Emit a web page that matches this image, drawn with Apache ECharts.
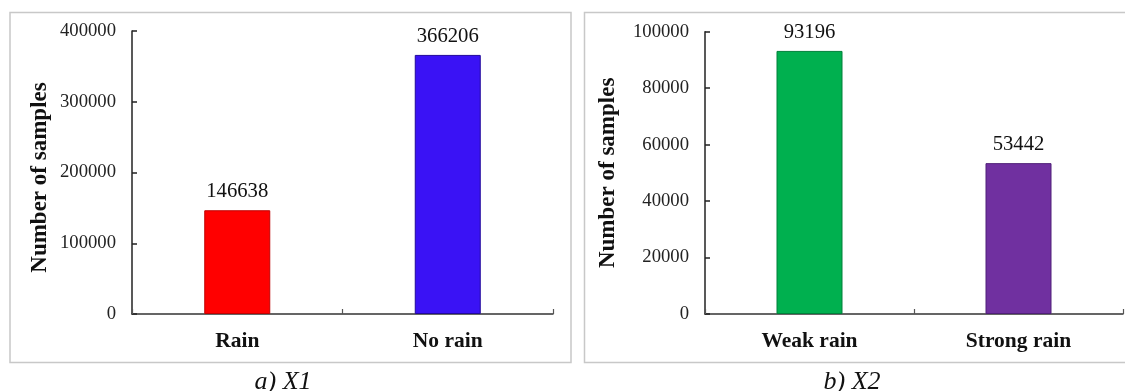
<!DOCTYPE html>
<html>
<head>
<meta charset="utf-8">
<style>
  html, body { margin: 0; padding: 0; background: #ffffff; }
  #chart { width: 1125px; height: 391px; }
</style>
<script src="https://cdn.jsdelivr.net/npm/echarts@6/dist/echarts.min.js"></script>
</head>
<body>
<div id="chart"></div>
<script>
// Sample counts per class for the two labelling schemes
const x1Categories = ['Rain', 'No rain'];
const x1Values = [146638, 366206];
const x1Colors = ['#ff0000', '#3a12f5'];
const x1Borders = ['#c00000', '#20089a'];

const x2Categories = ['Weak rain', 'Strong rain'];
const x2Values = [93196, 53442];
const x2Colors = ['#00b04f', '#7030a0'];
const x2Borders = ['#00803a', '#4f1f78'];

const x1Ticks = { min: 0, max: 400000, interval: 100000 };
const x2Ticks = { min: 0, max: 100000, interval: 20000 };

const yAxisTitle = 'Number of samples';
const captions = ['a) X1', 'b) X2'];

const serif = '"Liberation Serif", "Times New Roman", serif';

function valueAxis(gridIndex, ticks) {
  return {
    type: 'value',
    gridIndex: gridIndex,
    min: ticks.min,
    max: ticks.max,
    interval: ticks.interval,
    name: yAxisTitle,
    nameLocation: 'middle',
    nameRotate: 90,
    nameGap: gridIndex === 0 ? 80.5 : 85.5,
    nameTextStyle: {
      fontFamily: serif, fontWeight: 'bold', fontSize: 23, color: '#111',
      padding: gridIndex === 0 ? [0, 10, 0, 0] : [0, 0, 0, 0]
    },
    axisLine: { show: true, lineStyle: { color: '#222', width: 1.5 } },
    axisTick: { show: true, inside: true, length: 5, lineStyle: { color: '#222', width: 1.5 } },
    axisLabel: {
      fontFamily: serif, fontSize: 18.7, color: '#222', margin: 16,
      formatter: (v) => String(v)
    },
    splitLine: { show: false }
  };
}

function categoryAxis(gridIndex, cats) {
  return {
    type: 'category',
    gridIndex: gridIndex,
    data: cats,
    axisLine: { show: true, lineStyle: { color: '#333', width: 1.5 } },
    axisTick: { show: true, inside: true, length: 5, lineStyle: { color: '#555', width: 1.2 } },
    axisLabel: { fontFamily: serif, fontWeight: 'bold', fontSize: 21.5, color: '#111', margin: 16 }
  };
}

function barSeries(idx, values, colors, borders) {
  return {
    type: 'bar',
    xAxisIndex: idx,
    yAxisIndex: idx,
    barWidth: 66,
    data: values.map((v, i) => ({
      value: v,
      itemStyle: { color: colors[i], borderColor: borders[i], borderWidth: 1 }
    })),
    label: {
      show: true,
      position: 'top',
      distance: 8,
      fontFamily: serif,
      fontSize: 20.7,
      color: '#111'
    }
  };
}

const chart = echarts.init(document.getElementById('chart'), null, { renderer: 'canvas' });

chart.setOption({
  backgroundColor: '#ffffff',
  animation: false,
  grid: [
    { left: 132, top: 31, width: 421, height: 283 },
    { left: 705, top: 31.7, width: 418, height: 282.3 }
  ],
  xAxis: [categoryAxis(0, x1Categories), categoryAxis(1, x2Categories)],
  yAxis: [valueAxis(0, x1Ticks), valueAxis(1, x2Ticks)],
  series: [
    barSeries(0, x1Values, x1Colors, x1Borders),
    barSeries(1, x2Values, x2Colors, x2Borders)
  ],
  graphic: [
    // panel frames
    {
      type: 'rect', z: -1, silent: true,
      shape: { x: 10, y: 12.5, width: 561, height: 350 },
      style: { fill: 'none', stroke: '#c8c8c8', lineWidth: 1.5 }
    },
    {
      type: 'rect', z: -1, silent: true,
      shape: { x: 584.5, y: 12.5, width: 560, height: 350 },
      style: { fill: 'none', stroke: '#c8c8c8', lineWidth: 1.5 }
    },
    // panel captions
    {
      type: 'text', silent: true,
      style: {
        x: 283, y: 382, text: captions[0], align: 'center', verticalAlign: 'middle',
        font: 'italic 26px ' + serif, fill: '#111'
      }
    },
    {
      type: 'text', silent: true,
      style: {
        x: 852, y: 382, text: captions[1], align: 'center', verticalAlign: 'middle',
        font: 'italic 26px ' + serif, fill: '#111'
      }
    }
  ]
});
</script>
</body>
</html>
